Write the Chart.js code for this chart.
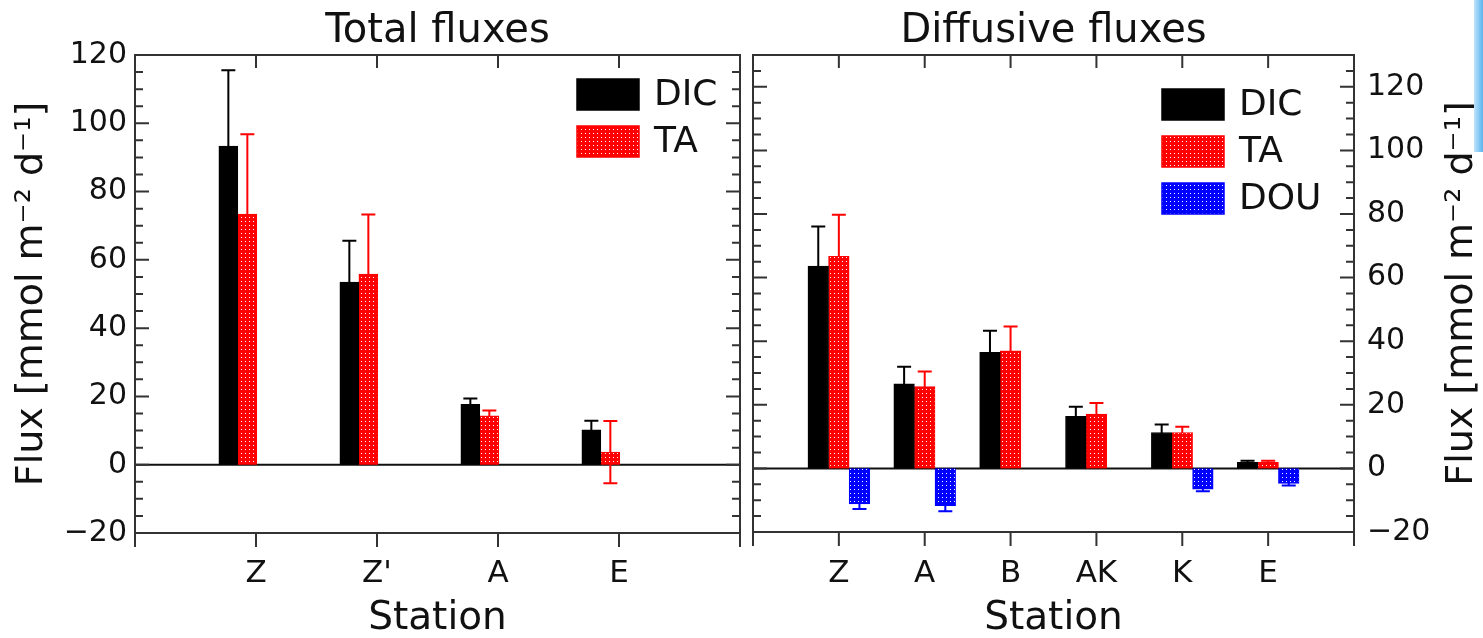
<!DOCTYPE html>
<html>
<head>
<meta charset="utf-8">
<title>Total and diffusive fluxes</title>
<script src="https://cdn.jsdelivr.net/npm/chart.js@4.4.1/dist/chart.umd.min.js"></script>
<style>
  html, body { margin: 0; padding: 0; background: #fff; }
  #wrap { position: relative; width: 1483px; height: 638px; overflow: hidden; }
  #total { position: absolute; left: 0; top: 0; }
  #diffusive { position: absolute; left: 745px; top: 0; }
  #edge { position: absolute; right: 0; top: 0; width: 9px; height: 152px;
          background: linear-gradient(to right, #bfe3fa, #5ab4ee); }
</style>
</head>
<body>
<div id="wrap">
  <canvas id="total" width="745" height="638"></canvas>
  <canvas id="diffusive" width="738" height="638"></canvas>
  <div id="edge"></div>
</div>
<script>
// ---- total fluxes (mmol m-2 d-1) ----
const totalStations = ["Z", "Z'", "A", "E"];
const totalDIC    = [93.3, 53.5, 17.7, 10.2];
const totalDICErr = [22.2, 12.1, 1.7, 2.7];
const totalTA     = [73.4, 55.8, 14.3, 3.7];
const totalTAErr  = [23.4, 17.5, 1.6, 9.1];
const totalYTicks = [-20, 0, 20, 40, 60, 80, 100, 120];

// ---- diffusive fluxes (mmol m-2 d-1) ----
const diffStations = ["Z", "A", "B", "AK", "K", "E"];
const diffDIC    = [63.6, 26.6, 36.5, 16.4, 11.3, 1.9];
const diffDICErr = [12.5, 5.4, 6.8, 3.0, 2.5, 0.5];
const diffTA     = [66.7, 25.7, 37.0, 17.1, 11.3, 1.9];
const diffTAErr  = [13.1, 4.8, 7.6, 3.5, 1.8, 0.5];
const diffDOU    = [-11.2, -11.7, null, null, -6.5, -4.7];
const diffDOUErr = [1.6, 1.8, null, null, 0.7, 0.7];
const diffYTicks = [-20, 0, 20, 40, 60, 80, 100, 120];

const yTitle = "Flux [mmol m\u207B\u00B2 d\u207B\u00B9]";
const FONT = "'DejaVu Sans', sans-serif";

Chart.defaults.font.family = FONT;
Chart.defaults.color = "#111";
Chart.defaults.animation = false;

// red / blue fills with a fine white dot grid
function dotPattern(fill) {
    const c = document.createElement("canvas");
    c.width = 4; c.height = 4;
    const g = c.getContext("2d");
    g.fillStyle = fill;
    g.fillRect(0, 0, 4, 4);
    g.fillStyle = "#fff";
    g.fillRect(1, 1, 1, 1);
    return g.createPattern(c, "repeat");
}

function bars(label, values, errs, fill, edge, shift) {
    return {
        label: label,
        data: values.map((v, i) => ({ x: i + 1 + shift, y: v })),
        errors: errs,
        errColor: edge,
        backgroundColor: fill,
        borderColor: edge,
        borderWidth: 1
    };
}

const minus = v => (v < 0 ? "\u2212" + Math.abs(v) : String(v));

// zero line + error bars, under the bars
const underlay = {
    id: "underlay",
    beforeDatasetsDraw(chart) {
        const { ctx, chartArea: a, scales: { y } } = chart;
        ctx.save();
        ctx.strokeStyle = "#111";
        ctx.lineWidth = 2;
        const y0 = y.getPixelForValue(0);
        ctx.beginPath();
        ctx.moveTo(a.left, y0);
        ctx.lineTo(a.right, y0);
        ctx.stroke();

        chart.data.datasets.forEach((ds, di) => {
            chart.getDatasetMeta(di).data.forEach((bar, i) => {
                const v = ds.data[i].y, e = ds.errors[i];
                if (v == null || e == null) return;
                const top = y.getPixelForValue(v + e);
                const bot = y.getPixelForValue(v - e);
                ctx.strokeStyle = ds.errColor;
                ctx.beginPath();
                ctx.moveTo(bar.x, top); ctx.lineTo(bar.x, bot);
                ctx.moveTo(bar.x - 7, top); ctx.lineTo(bar.x + 7, top);
                ctx.moveTo(bar.x - 7, bot); ctx.lineTo(bar.x + 7, bot);
                ctx.stroke();
            });
        });
        ctx.restore();
    }
};

// box, inward ticks, panel title, legend and (optionally) a right-hand y title
const decor = {
    id: "decor",
    afterDraw(chart, args, o) {
        const { ctx, chartArea: a, scales: { x, y } } = chart;
        ctx.save();
        ctx.strokeStyle = "#333";
        ctx.lineWidth = 2;
        ctx.strokeRect(a.left, a.top, a.right - a.left, a.bottom - a.top);

        ctx.beginPath();
        for (let v = o.yMinor[0]; v <= y.max; v += o.yMinor[1]) {
            const py = y.getPixelForValue(v);
            const len = o.yMajor.includes(v) ? 14 : 8;
            ctx.moveTo(a.left, py); ctx.lineTo(a.left + len, py);
            ctx.moveTo(a.right, py); ctx.lineTo(a.right - len, py);
        }
        for (let k = 0; k <= o.n + 1; k++) {
            const px = x.getPixelForValue(k);
            ctx.moveTo(px, a.bottom); ctx.lineTo(px, a.bottom + 14);
            if (k > 0 && k <= o.n) { ctx.moveTo(px, a.top); ctx.lineTo(px, a.top + 13); }
        }
        ctx.stroke();

        // panel title
        ctx.fillStyle = "#111";
        ctx.font = "40px " + FONT;
        ctx.textAlign = "center";
        ctx.textBaseline = "alphabetic";
        ctx.fillText(o.title, (a.left + a.right) / 2, 42);

        // legend in the upper right corner
        ctx.font = "36px " + FONT;
        ctx.textAlign = "left";
        ctx.textBaseline = "middle";
        chart.data.datasets.forEach((ds, k) => {
            const bx = a.right - o.legend.right;
            const by = a.top + o.legend.top + k * 47;
            ctx.fillStyle = ds.backgroundColor;
            ctx.fillRect(bx, by, 62, 31);
            ctx.strokeStyle = ds.borderColor;
            ctx.lineWidth = 1.5;
            ctx.strokeRect(bx, by, 62, 31);
            ctx.fillStyle = "#111";
            ctx.fillText(ds.label, bx + 77, by + 17);
        });

        if (o.rightTitle) {
            ctx.translate(o.rightTitle, (a.top + a.bottom) / 2);
            ctx.rotate(-Math.PI / 2);
            ctx.font = "38px " + FONT;
            ctx.textAlign = "center";
            ctx.fillText(yTitle, 0, 0);
        }
        ctx.restore();
    }
};

function xAxis(stations, padding) {
    return {
        type: "linear",
        min: 0,
        max: stations.length + 1,
        offset: false,
        grid: { display: false, drawTicks: false },
        border: { display: false },
        afterBuildTicks: s => { s.ticks = stations.map((_, i) => ({ value: i + 1 })); },
        ticks: {
            padding: padding,
            maxRotation: 0,
            font: { size: 31 },
            callback: v => stations[Math.round(v) - 1]
        },
        title: {
            display: true,
            text: "Station",
            font: { size: 39, lineHeight: 1 },
            padding: { top: 0, bottom: 0 }
        }
    };
}

// ---- left panel ----
new Chart(document.getElementById("total"), {
    type: "bar",
    data: {
        datasets: [
            bars("DIC", totalDIC, totalDICErr, "#000", "#000", -0.15),
            bars("TA", totalTA, totalTAErr, dotPattern("#ff0000"), "#ff0000", -0.15)
        ]
    },
    options: {
        responsive: false,
        barThickness: 19,
        layout: { padding: { top: 55, right: 5, left: 0, bottom: 0 } },
        plugins: {
            legend: { display: false },
            tooltip: { enabled: false },
            decor: {
                title: "Total fluxes",
                n: totalStations.length,
                yMajor: totalYTicks,
                yMinor: [-20, 5],
                legend: { right: 163, top: 24 }
            }
        },
        scales: {
            x: Object.assign(xAxis(totalStations, 22), {
                afterFit: s => { s.height = 105; }
            }),
            y: {
                min: -20,
                max: 120,
                grid: { display: false, drawTicks: false },
                border: { display: false },
                afterBuildTicks: s => { s.ticks = totalYTicks.map(v => ({ value: v })); },
                afterFit: s => { s.width = 135; },
                ticks: { padding: 8, font: { size: 30 }, callback: minus },
                title: {
                    display: true,
                    text: yTitle,
                    font: { size: 38, lineHeight: 1 },
                    padding: { top: 13, bottom: 0 }
                }
            }
        }
    },
    plugins: [underlay, decor]
});

// ---- right panel ----
new Chart(document.getElementById("diffusive"), {
    type: "bar",
    data: {
        datasets: [
            bars("DIC", diffDIC, diffDICErr, "#000", "#000", 0),
            bars("TA", diffTA, diffTAErr, dotPattern("#ff0000"), "#ff0000", 0),
            bars("DOU", diffDOU, diffDOUErr, dotPattern("#0000ff"), "#0000ff", 0)
        ]
    },
    options: {
        responsive: false,
        barThickness: 20.6,
        layout: { padding: { top: 55, right: 0, left: 8, bottom: 0 } },
        plugins: {
            legend: { display: false },
            tooltip: { enabled: false },
            decor: {
                title: "Diffusive fluxes",
                n: diffStations.length,
                yMajor: diffYTicks,
                yMinor: [-20, 5],
                legend: { right: 192, top: 34 },
                rightTitle: 717
            }
        },
        scales: {
            x: Object.assign(xAxis(diffStations, 23), {
                afterFit: s => { s.height = 106; }
            }),
            y: {
                position: "right",
                min: -20,
                max: 130,
                grid: { display: false, drawTicks: false },
                border: { display: false },
                afterBuildTicks: s => { s.ticks = diffYTicks.map(v => ({ value: v })); },
                afterFit: s => { s.width = 129; },
                ticks: { padding: 13, font: { size: 30 }, callback: minus }
            }
        }
    },
    plugins: [underlay, decor]
});
</script>
</body>
</html>
